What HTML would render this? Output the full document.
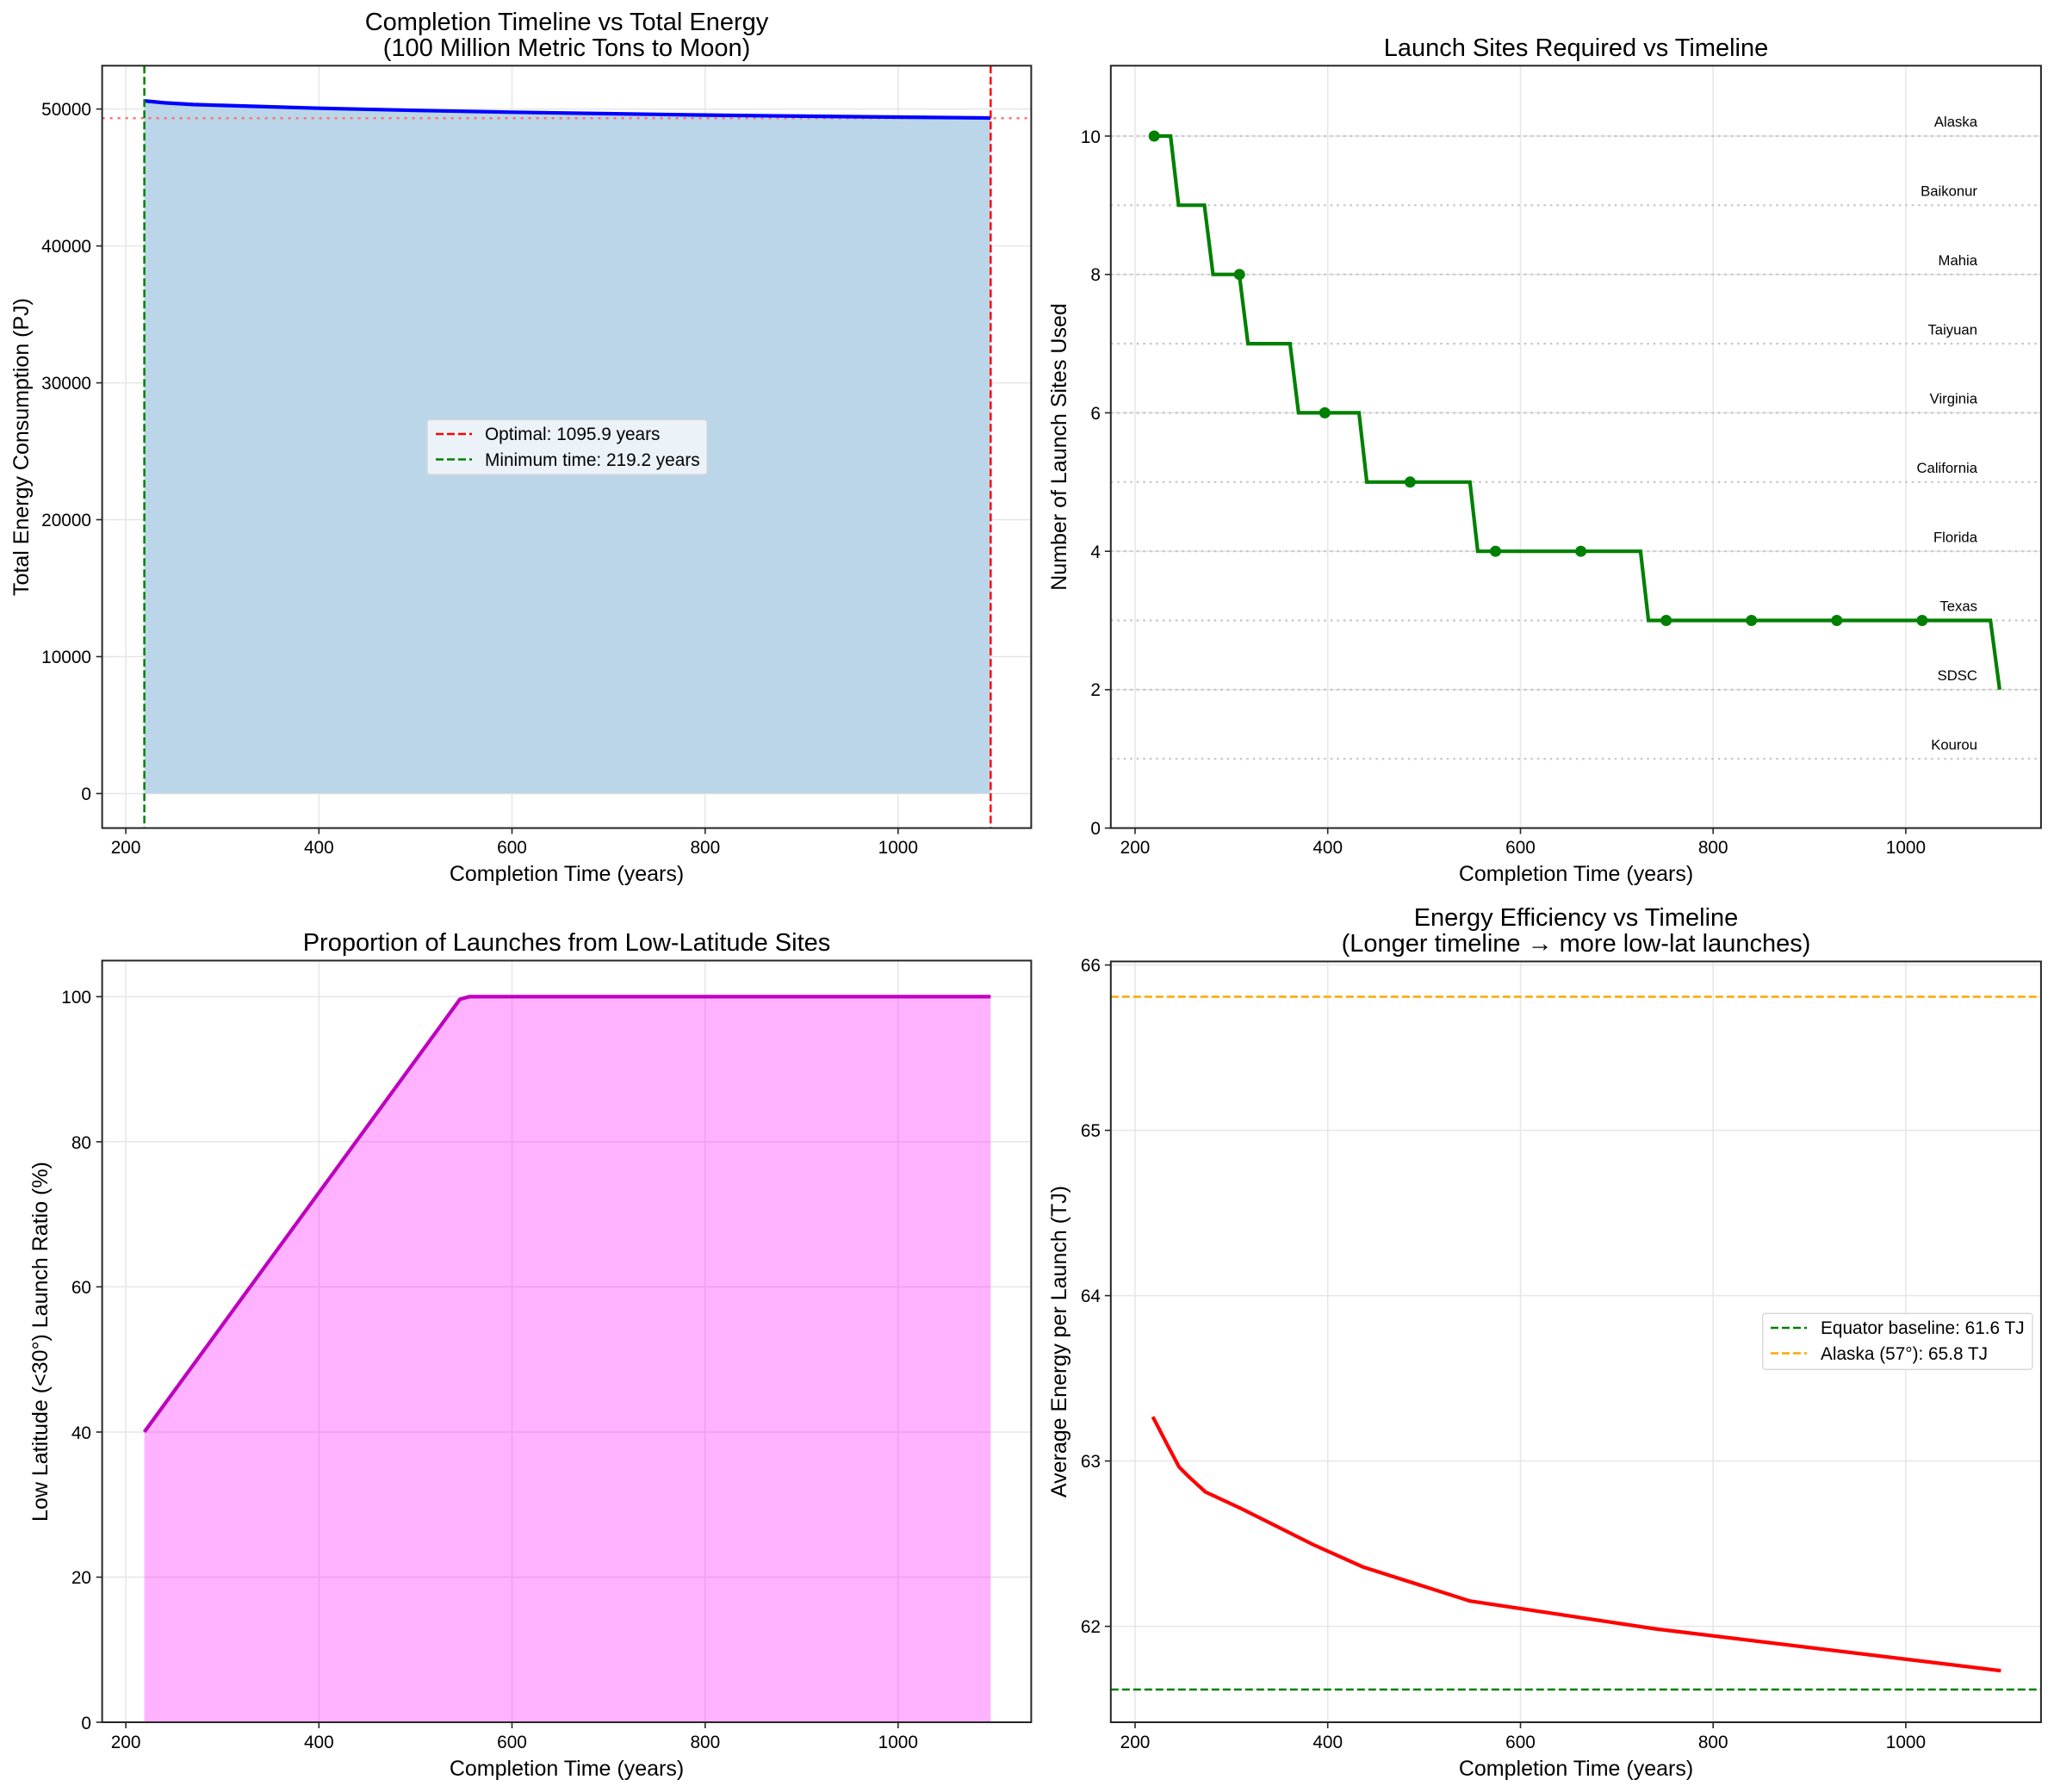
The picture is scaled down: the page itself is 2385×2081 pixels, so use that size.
<!DOCTYPE html>
<html><head><meta charset="utf-8"><style>
html,body{margin:0;padding:0;background:#fff}
svg{display:block}
text{font-family:"Liberation Sans",Arial,sans-serif;fill:#000}
.t{font-size:20.8px}
.l{font-size:25px}
.h{font-size:29px}
.s{font-size:16.7px}
</style></head><body>
<svg width="2385" height="2081" viewBox="0 0 2385 2081" xmlns="http://www.w3.org/2000/svg">
<rect width="2385" height="2081" fill="#fff"/>

<!-- ============ PANEL 1 ============ -->
<g>
<g stroke="#e6e6e6" stroke-width="1.5">
<line x1="146.1" y1="76.3" x2="146.1" y2="961.6"/><line x1="370.3" y1="76.3" x2="370.3" y2="961.6"/><line x1="594.5" y1="76.3" x2="594.5" y2="961.6"/><line x1="818.8" y1="76.3" x2="818.8" y2="961.6"/><line x1="1042.8" y1="76.3" x2="1042.8" y2="961.6"/>
<line x1="118.6" y1="921.5" x2="1197.4" y2="921.5"/><line x1="118.6" y1="762.5" x2="1197.4" y2="762.5"/><line x1="118.6" y1="603.5" x2="1197.4" y2="603.5"/><line x1="118.6" y1="444.6" x2="1197.4" y2="444.6"/><line x1="118.6" y1="285.6" x2="1197.4" y2="285.6"/><line x1="118.6" y1="126.6" x2="1197.4" y2="126.6"/>
</g>
<path d="M167.6,117.1 L190.9,119.4 L224.5,121.4 L291.8,123.4 L370.3,125.7 L482.4,128.2 L594.5,130.3 L706.7,132 L818.8,133.6 L930.9,134.9 L1042.8,136 L1150.3,137 L1150.3,921.5 L167.6,921.5 Z" fill="#bbd6e8"/>
<line x1="118.6" y1="137.3" x2="1197.4" y2="137.3" stroke="#ff7070" stroke-width="2.5" stroke-dasharray="3,6"/>
<path d="M167.6,117.1 L190.9,119.4 L224.5,121.4 L291.8,123.4 L370.3,125.7 L482.4,128.2 L594.5,130.3 L706.7,132 L818.8,133.6 L930.9,134.9 L1042.8,136 L1150.3,137" fill="none" stroke="#0000ff" stroke-width="4.2"/>
<line x1="167.6" y1="76.3" x2="167.6" y2="961.6" stroke="#008000" stroke-width="2.5" stroke-dasharray="9,4"/>
<line x1="1150.3" y1="76.3" x2="1150.3" y2="961.6" stroke="#ff0000" stroke-width="2.5" stroke-dasharray="9,4"/>
<rect x="118.6" y="76.3" width="1078.8" height="885.3" fill="none" stroke="#262626" stroke-width="2"/>
<g stroke="#262626" stroke-width="1.6">
<line x1="146.1" y1="961.6" x2="146.1" y2="968.5"/><line x1="370.3" y1="961.6" x2="370.3" y2="968.5"/><line x1="594.5" y1="961.6" x2="594.5" y2="968.5"/><line x1="818.8" y1="961.6" x2="818.8" y2="968.5"/><line x1="1042.8" y1="961.6" x2="1042.8" y2="968.5"/>
<line x1="111.7" y1="921.5" x2="118.6" y2="921.5"/><line x1="111.7" y1="762.5" x2="118.6" y2="762.5"/><line x1="111.7" y1="603.5" x2="118.6" y2="603.5"/><line x1="111.7" y1="444.6" x2="118.6" y2="444.6"/><line x1="111.7" y1="285.6" x2="118.6" y2="285.6"/><line x1="111.7" y1="126.6" x2="118.6" y2="126.6"/>
</g>
<g class="t" text-anchor="middle">
<text x="146.1" y="991">200</text><text x="370.3" y="991">400</text><text x="594.5" y="991">600</text><text x="818.8" y="991">800</text><text x="1042.8" y="991">1000</text>
</g>
<g class="t" text-anchor="end">
<text x="106" y="929">0</text><text x="106" y="770">10000</text><text x="106" y="611">20000</text><text x="106" y="452">30000</text><text x="106" y="293">40000</text><text x="106" y="134">50000</text>
</g>
<text class="l" x="658" y="1023" text-anchor="middle">Completion Time (years)</text>
<text class="l" transform="translate(33,519) rotate(-90)" text-anchor="middle">Total Energy Consumption (PJ)</text>
<text class="h" x="658" y="35" text-anchor="middle">Completion Timeline vs Total Energy</text>
<text class="h" x="658" y="65" text-anchor="middle">(100 Million Metric Tons to Moon)</text>
<rect x="496" y="487.5" width="325" height="63.5" rx="3" fill="#f1f5f9" fill-opacity="0.9" stroke="#d6d6d6" stroke-width="1.3"/>
<line x1="506" y1="504" x2="548" y2="504" stroke="#ff0000" stroke-width="2.5" stroke-dasharray="9,4"/>
<line x1="506" y1="533.5" x2="548" y2="533.5" stroke="#008000" stroke-width="2.5" stroke-dasharray="9,4"/>
<text class="t" x="563" y="511">Optimal: 1095.9 years</text>
<text class="t" x="563" y="541">Minimum time: 219.2 years</text>
</g>

<!-- ============ PANEL 2 ============ -->
<g>
<g stroke="#e6e6e6" stroke-width="1.5">
<line x1="1318" y1="76.3" x2="1318" y2="961.6"/><line x1="1541.7" y1="76.3" x2="1541.7" y2="961.6"/><line x1="1765.5" y1="76.3" x2="1765.5" y2="961.6"/><line x1="1989.2" y1="76.3" x2="1989.2" y2="961.6"/><line x1="2212.9" y1="76.3" x2="2212.9" y2="961.6"/>
<line x1="1289.8" y1="800.9" x2="2369.9" y2="800.9"/><line x1="1289.8" y1="640.2" x2="2369.9" y2="640.2"/><line x1="1289.8" y1="479.4" x2="2369.9" y2="479.4"/><line x1="1289.8" y1="318.7" x2="2369.9" y2="318.7"/><line x1="1289.8" y1="158" x2="2369.9" y2="158"/>
</g>
<g stroke="#c4c4c4" stroke-width="2.2" stroke-dasharray="2.5,5">
<line x1="1289.8" y1="158" x2="2369.9" y2="158"/><line x1="1289.8" y1="238.3" x2="2369.9" y2="238.3"/><line x1="1289.8" y1="318.7" x2="2369.9" y2="318.7"/><line x1="1289.8" y1="399.1" x2="2369.9" y2="399.1"/><line x1="1289.8" y1="479.4" x2="2369.9" y2="479.4"/><line x1="1289.8" y1="559.8" x2="2369.9" y2="559.8"/><line x1="1289.8" y1="640.2" x2="2369.9" y2="640.2"/><line x1="1289.8" y1="720.5" x2="2369.9" y2="720.5"/><line x1="1289.8" y1="800.9" x2="2369.9" y2="800.9"/><line x1="1289.8" y1="881.2" x2="2369.9" y2="881.2"/>
</g>
<g class="s" text-anchor="end">
<text x="2296" y="147">Alaska</text><text x="2296" y="227.5">Baikonur</text><text x="2296" y="308">Mahia</text><text x="2296" y="388.3">Taiyuan</text><text x="2296" y="468.5">Virginia</text><text x="2296" y="549">California</text><text x="2296" y="629.4">Florida</text><text x="2296" y="709.7">Texas</text><text x="2296" y="790">SDSC</text><text x="2296" y="870.4">Kourou</text>
</g>
<path d="M1340.2,158 L1359.2,158 L1368.5,238.3 L1398.5,238.3 L1408.5,318.7 L1439,318.7 L1449.1,399.1 L1497.9,399.1 L1507.8,479.4 L1578,479.4 L1587.1,559.8 L1706.8,559.8 L1715.9,640.2 L1904.9,640.2 L1914.1,720.5 L2311.2,720.5 L2321.9,800.9" fill="none" stroke="#008000" stroke-width="4.2" stroke-linejoin="miter"/>
<g fill="#008000">
<circle cx="1340.2" cy="158" r="6.5"/><circle cx="1439.2" cy="318.7" r="6.5"/><circle cx="1538.3" cy="479.4" r="6.5"/><circle cx="1637.4" cy="559.8" r="6.5"/><circle cx="1736.5" cy="640.2" r="6.5"/><circle cx="1835.6" cy="640.2" r="6.5"/><circle cx="1934.7" cy="720.5" r="6.5"/><circle cx="2033.7" cy="720.5" r="6.5"/><circle cx="2132.8" cy="720.5" r="6.5"/><circle cx="2231.9" cy="720.5" r="6.5"/>
</g>
<rect x="1289.8" y="76.3" width="1080.1" height="885.3" fill="none" stroke="#262626" stroke-width="2"/>
<g stroke="#262626" stroke-width="1.6">
<line x1="1318" y1="961.6" x2="1318" y2="968.5"/><line x1="1541.7" y1="961.6" x2="1541.7" y2="968.5"/><line x1="1765.5" y1="961.6" x2="1765.5" y2="968.5"/><line x1="1989.2" y1="961.6" x2="1989.2" y2="968.5"/><line x1="2212.9" y1="961.6" x2="2212.9" y2="968.5"/>
<line x1="1282.9" y1="961.6" x2="1289.8" y2="961.6"/><line x1="1282.9" y1="800.9" x2="1289.8" y2="800.9"/><line x1="1282.9" y1="640.2" x2="1289.8" y2="640.2"/><line x1="1282.9" y1="479.4" x2="1289.8" y2="479.4"/><line x1="1282.9" y1="318.7" x2="1289.8" y2="318.7"/><line x1="1282.9" y1="158" x2="1289.8" y2="158"/>
</g>
<g class="t" text-anchor="middle">
<text x="1318" y="991">200</text><text x="1541.7" y="991">400</text><text x="1765.5" y="991">600</text><text x="1989.2" y="991">800</text><text x="2212.9" y="991">1000</text>
</g>
<g class="t" text-anchor="end">
<text x="1278" y="969">0</text><text x="1278" y="808">2</text><text x="1278" y="648">4</text><text x="1278" y="487">6</text><text x="1278" y="326">8</text><text x="1278" y="166">10</text>
</g>
<text class="l" x="1830" y="1023" text-anchor="middle">Completion Time (years)</text>
<text class="l" transform="translate(1238,519) rotate(-90)" text-anchor="middle">Number of Launch Sites Used</text>
<text class="h" x="1830" y="65" text-anchor="middle">Launch Sites Required vs Timeline</text>
</g>

<!-- ============ PANEL 3 ============ -->
<g>
<g stroke="#e6e6e6" stroke-width="1.5">
<line x1="146.1" y1="1115.5" x2="146.1" y2="2000"/><line x1="370.3" y1="1115.5" x2="370.3" y2="2000"/><line x1="594.5" y1="1115.5" x2="594.5" y2="2000"/><line x1="818.8" y1="1115.5" x2="818.8" y2="2000"/><line x1="1042.8" y1="1115.5" x2="1042.8" y2="2000"/>
<line x1="118.6" y1="1831.5" x2="1197.4" y2="1831.5"/><line x1="118.6" y1="1663" x2="1197.4" y2="1663"/><line x1="118.6" y1="1494.4" x2="1197.4" y2="1494.4"/><line x1="118.6" y1="1325.9" x2="1197.4" y2="1325.9"/><line x1="118.6" y1="1157.4" x2="1197.4" y2="1157.4"/>
</g>
<path d="M167.6,1662.9 L534,1160.5 L545,1157.4 L1150.3,1157.4 L1150.3,2000 L167.6,2000 Z" fill="#ff00ff" fill-opacity="0.3"/>
<path d="M167.6,1662.9 L534,1160.5 L545,1157.4 L1150.3,1157.4" fill="none" stroke="#bf00bf" stroke-width="4.2"/>
<rect x="118.6" y="1115.5" width="1078.8" height="884.5" fill="none" stroke="#262626" stroke-width="2"/>
<g stroke="#262626" stroke-width="1.6">
<line x1="146.1" y1="2000" x2="146.1" y2="2007"/><line x1="370.3" y1="2000" x2="370.3" y2="2007"/><line x1="594.5" y1="2000" x2="594.5" y2="2007"/><line x1="818.8" y1="2000" x2="818.8" y2="2007"/><line x1="1042.8" y1="2000" x2="1042.8" y2="2007"/>
<line x1="111.7" y1="2000" x2="118.6" y2="2000"/><line x1="111.7" y1="1831.5" x2="118.6" y2="1831.5"/><line x1="111.7" y1="1663" x2="118.6" y2="1663"/><line x1="111.7" y1="1494.4" x2="118.6" y2="1494.4"/><line x1="111.7" y1="1325.9" x2="118.6" y2="1325.9"/><line x1="111.7" y1="1157.4" x2="118.6" y2="1157.4"/>
</g>
<g class="t" text-anchor="middle">
<text x="146.1" y="2030">200</text><text x="370.3" y="2030">400</text><text x="594.5" y="2030">600</text><text x="818.8" y="2030">800</text><text x="1042.8" y="2030">1000</text>
</g>
<g class="t" text-anchor="end">
<text x="106" y="2008">0</text><text x="106" y="1839">20</text><text x="106" y="1671">40</text><text x="106" y="1502">60</text><text x="106" y="1334">80</text><text x="106" y="1165">100</text>
</g>
<text class="l" x="658" y="2062" text-anchor="middle">Completion Time (years)</text>
<text class="l" transform="translate(55,1558) rotate(-90)" text-anchor="middle">Low Latitude (&lt;30°) Launch Ratio (%)</text>
<text class="h" x="658" y="1104" text-anchor="middle">Proportion of Launches from Low-Latitude Sites</text>
</g>

<!-- ============ PANEL 4 ============ -->
<g>
<g stroke="#e6e6e6" stroke-width="1.5">
<line x1="1318" y1="1116.5" x2="1318" y2="2000"/><line x1="1541.7" y1="1116.5" x2="1541.7" y2="2000"/><line x1="1765.5" y1="1116.5" x2="1765.5" y2="2000"/><line x1="1989.2" y1="1116.5" x2="1989.2" y2="2000"/><line x1="2212.9" y1="1116.5" x2="2212.9" y2="2000"/>
<line x1="1289.8" y1="1888.6" x2="2369.9" y2="1888.6"/><line x1="1289.8" y1="1696.6" x2="2369.9" y2="1696.6"/><line x1="1289.8" y1="1504.6" x2="2369.9" y2="1504.6"/><line x1="1289.8" y1="1312.6" x2="2369.9" y2="1312.6"/><line x1="1289.8" y1="1120.6" x2="2369.9" y2="1120.6"/>
</g>
<line x1="1289.8" y1="1157.5" x2="2369.9" y2="1157.5" stroke="#ffa500" stroke-width="2.5" stroke-dasharray="9,4"/>
<line x1="1289.8" y1="1962" x2="2369.9" y2="1962" stroke="#008000" stroke-width="2.5" stroke-dasharray="9,4"/>
<path d="M1338.6,1645.3 L1353.9,1674.8 L1369.1,1703.6 L1380.5,1715 L1399.6,1732.5 L1441.5,1752 L1525.4,1794 L1582.5,1819.6 L1706.8,1859.2 L1921.7,1891.5 L2323.4,1940.2" fill="none" stroke="#ff0000" stroke-width="4.2"/>
<rect x="1289.8" y="1116.5" width="1080.1" height="883.5" fill="none" stroke="#262626" stroke-width="2"/>
<g stroke="#262626" stroke-width="1.6">
<line x1="1318" y1="2000" x2="1318" y2="2007"/><line x1="1541.7" y1="2000" x2="1541.7" y2="2007"/><line x1="1765.5" y1="2000" x2="1765.5" y2="2007"/><line x1="1989.2" y1="2000" x2="1989.2" y2="2007"/><line x1="2212.9" y1="2000" x2="2212.9" y2="2007"/>
<line x1="1282.9" y1="1888.6" x2="1289.8" y2="1888.6"/><line x1="1282.9" y1="1696.6" x2="1289.8" y2="1696.6"/><line x1="1282.9" y1="1504.6" x2="1289.8" y2="1504.6"/><line x1="1282.9" y1="1312.6" x2="1289.8" y2="1312.6"/><line x1="1282.9" y1="1120.6" x2="1289.8" y2="1120.6"/>
</g>
<g class="t" text-anchor="middle">
<text x="1318" y="2030">200</text><text x="1541.7" y="2030">400</text><text x="1765.5" y="2030">600</text><text x="1989.2" y="2030">800</text><text x="2212.9" y="2030">1000</text>
</g>
<g class="t" text-anchor="end">
<text x="1278" y="1896">62</text><text x="1278" y="1704">63</text><text x="1278" y="1512">64</text><text x="1278" y="1320">65</text><text x="1278" y="1128">66</text>
</g>
<text class="l" x="1830" y="2062" text-anchor="middle">Completion Time (years)</text>
<text class="l" transform="translate(1238,1558) rotate(-90)" text-anchor="middle">Average Energy per Launch (TJ)</text>
<text class="h" x="1830" y="1075" text-anchor="middle">Energy Efficiency vs Timeline</text>
<text class="h" x="1830" y="1105" text-anchor="middle">(Longer timeline → more low-lat launches)</text>
<rect x="2046.7" y="1525.3" width="313.3" height="65" rx="3" fill="#fff" fill-opacity="0.9" stroke="#d6d6d6" stroke-width="1.3"/>
<line x1="2056" y1="1542" x2="2098" y2="1542" stroke="#008000" stroke-width="2.5" stroke-dasharray="9,4"/>
<line x1="2056" y1="1571.5" x2="2098" y2="1571.5" stroke="#ffa500" stroke-width="2.5" stroke-dasharray="9,4"/>
<text class="t" x="2114" y="1549">Equator baseline: 61.6 TJ</text>
<text class="t" x="2114" y="1579">Alaska (57°): 65.8 TJ</text>
</g>
</svg>
</body></html>
